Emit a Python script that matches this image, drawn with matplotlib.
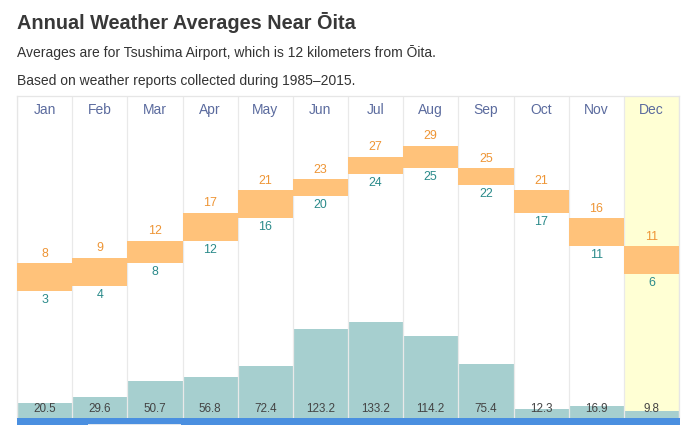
import numpy as np
import matplotlib
matplotlib.use('Agg')
import matplotlib.pyplot as plt
from matplotlib.patches import Rectangle

plt.rcParams['font.family'] = ['Liberation Sans', 'DejaVu Sans']

months = ['Jan', 'Feb', 'Mar', 'Apr', 'May', 'Jun', 'Jul', 'Aug', 'Sep', 'Oct', 'Nov', 'Dec']
temp_high = [8, 9, 12, 17, 21, 23, 27, 29, 25, 21, 16, 11]
temp_low = [3, 4, 8, 12, 16, 20, 24, 25, 22, 17, 11, 6]
precip = [20.5, 29.6, 50.7, 56.8, 72.4, 123.2, 133.2, 114.2, 75.4, 12.3, 16.9, 9.8]
highlight = 'Dec'

W, H = 694, 425
fig = plt.figure(figsize=(W / 100, H / 100), dpi=100)

# chart area in pixels: x 17..679, y 96..418 (from top)
ax = fig.add_axes([17 / W, 7 / H, 662 / W, 322 / H])
x = np.arange(len(months))

ax.set_xlim(-0.5, 11.5)
ax.set_ylim(0, 322 / 0.72)
hi = months.index(highlight)
ax.axvspan(hi - 0.5, hi + 0.5, color='#ffffd4', zorder=0, lw=0)
ax.bar(x, precip, width=1.0, color='#a6cfcf', zorder=1, lw=0)
for b in np.arange(-0.5, 12, 1.0):
    ax.axvline(b, color='#e9e9e9', lw=0.9, zorder=2)
for i, p in enumerate(precip):
    ax.text(i, 5.5 / 322, f'{p:.1f}', transform=ax.get_xaxis_transform(),
            ha='center', va='baseline', fontsize=8.4, color='#444444', zorder=5)
for i, m in enumerate(months):
    ax.text(i, (418 - 110) / 322, m, transform=ax.get_xaxis_transform(),
            ha='center', va='center', fontsize=10, color='#5b6b9e', zorder=5)
ax.set_xticks([])
ax.set_yticks([])
for s in ['left', 'right', 'top']:
    ax.spines[s].set_color('#e6e6e6')
    ax.spines[s].set_linewidth(0.9)
ax.spines['bottom'].set_visible(False)

# temperature band on twin axis
ax2 = ax.twinx()
ax2.set_ylim((308 - 418) / 5.6, (308 - 96) / 5.6)
ax2.set_yticks([])
for s in ax2.spines.values():
    s.set_visible(False)
lo = np.array(temp_low)
hg = np.array(temp_high)
ax2.bar(x, hg - lo, bottom=lo, width=1.0, color='#ffc27a', lw=0, zorder=3)
for i in range(len(months)):
    ax2.annotate(str(temp_high[i]), (i, temp_high[i]), xytext=(0, 2.4),
                 textcoords='offset points', ha='center', va='bottom',
                 fontsize=8.9, color='#ee9535')
    ax2.annotate(str(temp_low[i]), (i, temp_low[i]), xytext=(0, -2.2),
                 textcoords='offset points', ha='center', va='top',
                 fontsize=8.9, color='#2a8a8a')

# blue strip under the chart
fig.patches.append(Rectangle((17 / W, 0), 663 / W, 7 / H, transform=fig.transFigure,
                             color='#4a8fe0', lw=0))
fig.patches.append(Rectangle((88 / W, 0), 93 / W, 1.5 / H, transform=fig.transFigure,
                             color='#dfe6ee', lw=0))

fig.text(17 / W, 1 - 29 / H, 'Annual Weather Averages Near Ōita', fontsize=14.3,
         weight='bold', color='#383838', va='baseline')
fig.text(17 / W, 1 - 57.3 / H, 'Averages are for Tsushima Airport, which is 12 kilometers from Ōita.',
         fontsize=10, color='#333333', va='baseline')
fig.text(17 / W, 1 - 85.3 / H, 'Based on weather reports collected during 1985–2015.',
         fontsize=10, color='#333333', va='baseline')

fig.savefig('out.png', dpi=100)
